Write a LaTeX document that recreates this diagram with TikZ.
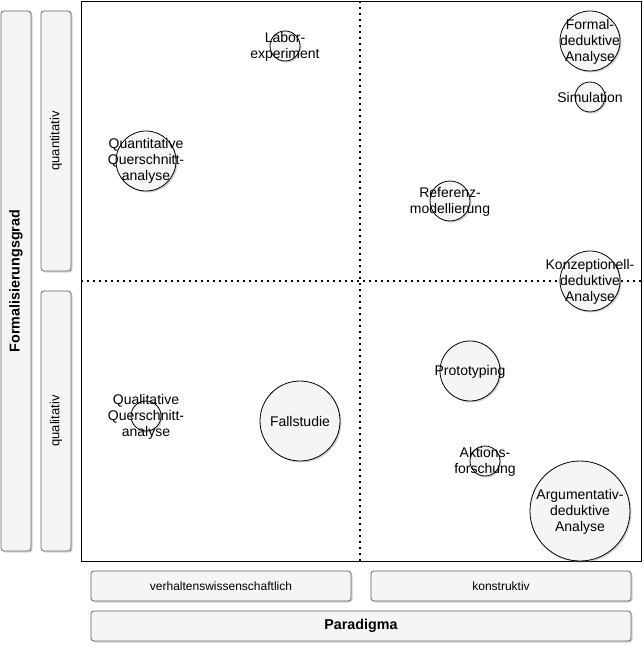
\documentclass[tikz,border=0pt]{standalone}
\usepackage{fontspec}
\setmainfont{Liberation Sans}
\usetikzlibrary{shadows}
\definecolor{boxfill}{HTML}{F5F5F5}
\definecolor{boxline}{HTML}{666666}
\begin{document}
\begin{tikzpicture}[x=1pt,y=-1pt,
  bar/.style={draw=boxline,fill=boxfill,rounded corners=3pt,line width=0.8pt,
    drop shadow={shadow xshift=1.5pt,shadow yshift=-1.5pt,opacity=0.35}},
  meth/.style={circle,draw=black,fill=boxfill,line width=0.8pt,inner sep=0pt,
    drop shadow={shadow xshift=1.5pt,shadow yshift=-1.5pt,opacity=0.35}},
  lbl/.style={align=center,font=\fontsize{14}{16}\selectfont,inner sep=0pt},
  small/.style={font=\fontsize{12}{14}\selectfont,inner sep=0pt},
  vsmall/.style={font=\fontsize{13}{15}\selectfont,inner sep=0pt},
  bold/.style={font=\fontsize{14.3}{16}\selectfont\bfseries,inner sep=0pt},
  grid/.style={line width=1.6pt,dash pattern=on 1.6pt off 4.4pt}]
\useasboundingbox (0,0) rectangle (643,645);
% side bars
\draw[bar] (1,11) rectangle (31,551);
\node[bold,rotate=90] (fg) at (16,281) {Formalisierungsgrad};
\draw[bar] (41,11) rectangle (71,271);
\node[vsmall,rotate=90] (qn) at (56,141) {quantitativ};
\draw[bar] (41,291) rectangle (71,551);
\node[vsmall,rotate=90] (ql) at (56,421) {qualitativ};
% bottom bars
\draw[bar] (91,571) rectangle (351,601);
\node[small] (vw) at (221,586) {verhaltenswissenschaftlich};
\draw[bar] (371,571) rectangle (631,601);
\node[small] (ko) at (501,586) {konstruktiv};
\draw[bar] (91,611) rectangle (631,641);
\node[bold] (pa) at (361,626) {Paradigma};
% frame
\draw[line width=0.8pt] (81,1) rectangle (641,561);
\coordinate (vt) at (360,1);
\coordinate (vb) at (360,561);
\coordinate (hl) at (81,281);
\coordinate (hr) at (641,281);
\draw[grid] (vt) -- (vb);
\draw[grid] (hl) -- (hr);
% methods
\node[meth,minimum size=30pt] (c1) at (285,46) {};
\node[lbl] at (285,47) {Labor-\\experiment};
\node[meth,minimum size=60pt] (c2) at (146,161) {};
\node[lbl] at (146,161) {Quantitative\\Querschnitt-\\analyse};
\node[meth,minimum size=60pt] (c3) at (590,41) {};
\node[lbl] at (590,42) {Formal-\\deduktive\\Analyse};
\node[meth,minimum size=30pt] (c4) at (590,97) {};
\node[lbl] at (590,97) {Simulation};
\node[meth,minimum size=40pt] (c5) at (450,201) {};
\node[lbl] at (450,202) {Referenz-\\modellierung};
\node[meth,minimum size=60pt] (c6) at (590,281) {};
\node[lbl] at (590,282) {Konzeptionell-\\deduktive\\Analyse};
\node[meth,minimum size=30pt] (c7) at (146,416) {};
\node[lbl] at (146,417) {Qualitative\\Querschnitt-\\analyse};
\node[meth,minimum size=80pt] (c8) at (300,421) {};
\node[lbl] at (300,421) {Fallstudie};
\node[meth,minimum size=60pt] (c9) at (470,371) {};
\node[lbl] at (470,372) {Prototyping};
\node[meth,minimum size=30pt] (c10) at (485,461) {};
\node[lbl] at (485,462) {Aktions-\\forschung};
\node[meth,minimum size=100pt] (c11) at (580,511) {};
\node[lbl] at (580,512) {Argumentativ-\\deduktive\\Analyse};
\end{tikzpicture}
\end{document}
